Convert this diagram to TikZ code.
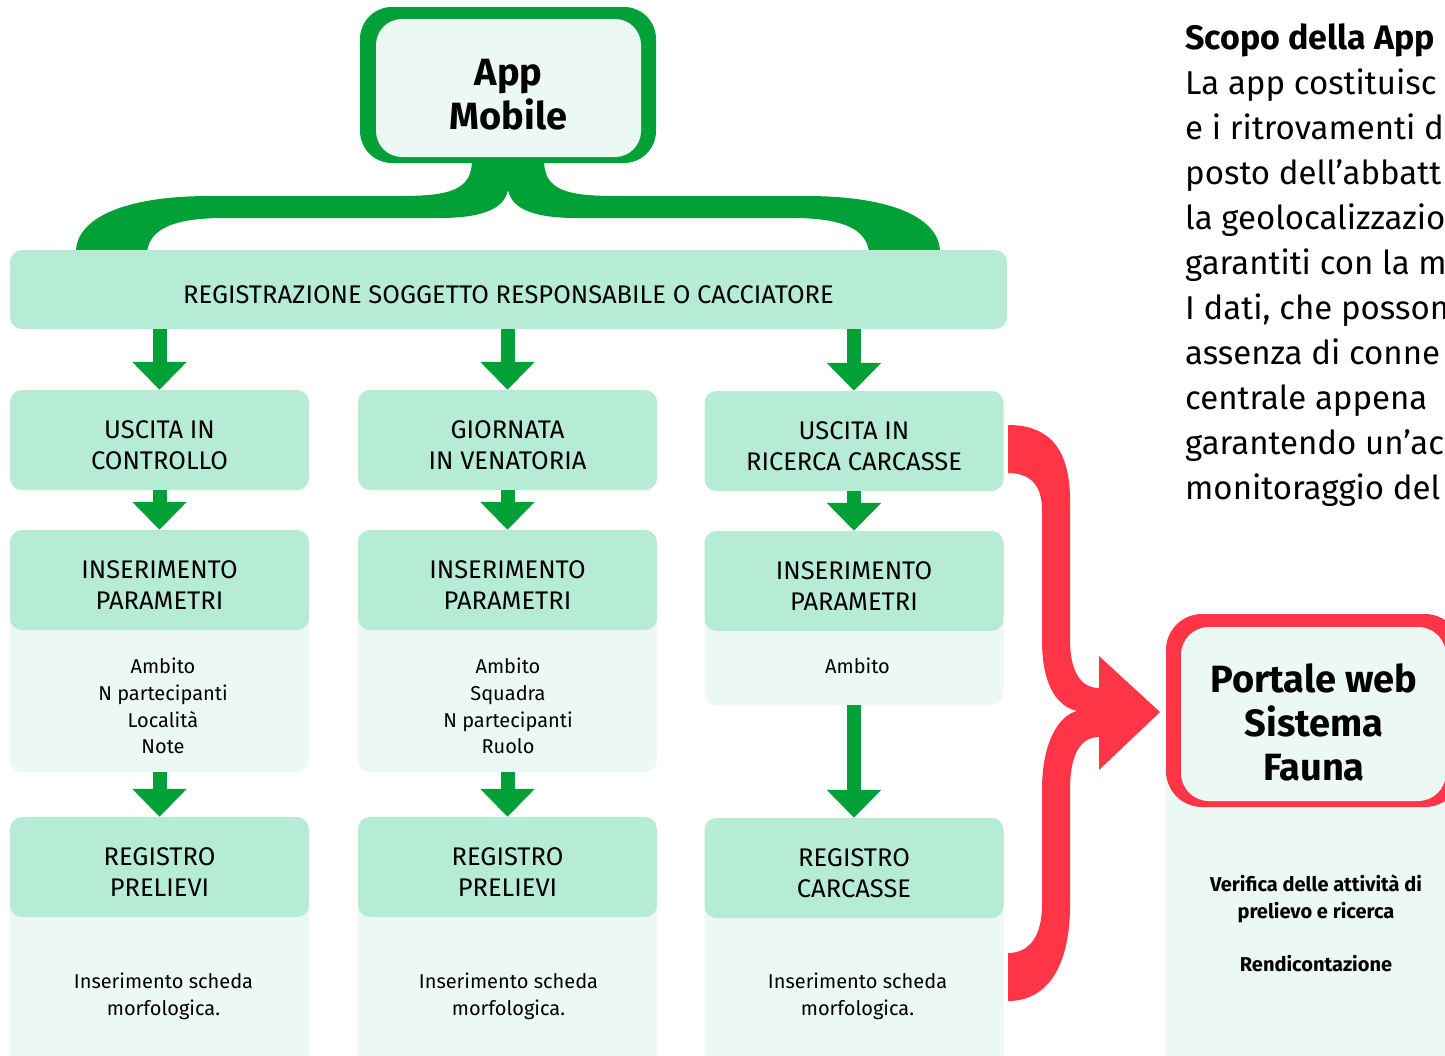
\documentclass[tikz,border=0pt]{standalone}
\usepackage{fontspec}
\setmainfont{Fira Sans}
\usetikzlibrary{arrows.meta}
\definecolor{gr}{HTML}{02A137}
\definecolor{mint}{HTML}{B6EBD6}
\definecolor{pale}{HTML}{ECF8F3}
\definecolor{rd}{HTML}{FE3546}
\begin{document}
\begin{tikzpicture}[x=1pt,y=-1pt,
  card/.style={rounded corners=12pt, minimum width=299pt, inner sep=0pt, draw=none},
  solidcard/.style={card, fill=mint},
  twotone/.style={card, fill=pale, path picture={\fill[mint] (path picture bounding box.north west) rectangle ([yshift=-100pt]path picture bounding box.north east);}},
  captext/.style={font=\fontsize{25.5}{31}\selectfont, align=center, inner sep=0pt},
  smalltext/.style={font=\fontsize{20}{26.7}\selectfont, align=center, inner sep=0pt},
  bigbold/.style={font=\fontsize{38}{44}\selectfont\bfseries, align=center, inner sep=0pt},
  arr/.style={draw=gr, line width=14pt, -{Triangle[width=53pt,length=28pt]}}
]
\useasboundingbox (0,0) rectangle (1445,1055);

% green brace from App box to registration
\fill[gr] (76,252) -- (147,252) .. controls (150,228) and (175,218) .. (225,218) -- (440,218)
  .. controls (490,218) and (505,205) .. (508,190)
  .. controls (511,205) and (526,218) .. (576,218) -- (791,218)
  .. controls (841,218) and (866,228) .. (869,252) -- (940,252)
  .. controls (940,220) and (896,196) .. (806,196) -- (616,196)
  .. controls (566,196) and (544,190) .. (544,160) -- (472,160)
  .. controls (472,190) and (450,196) .. (400,196) -- (210,196)
  .. controls (120,196) and (76,220) .. (76,252) -- cycle;

% App Mobile box
\fill[gr, rounded corners=32pt] (360,7) rectangle (656,163);
\fill[pale, rounded corners=26pt] (376,19) rectangle (641,157);
\node[bigbold] (app) at (508.5,95) {App\\Mobile};

% registration bar
\node[solidcard, minimum width=997pt, minimum height=79pt] (reg) at (508.5,289.5) {};
\node[captext] (regt) at (reg.center) [yshift=-5.5pt] {REGISTRAZIONE SOGGETTO RESPONSABILE O CACCIATORE};

% row 1
\node[solidcard, minimum height=100pt] (b11) at (159.5,440) {};
\node[solidcard, minimum height=100pt] (b12) at (507.5,440) {};
\node[solidcard, minimum height=100pt] (b13) at (854,441) {};
\node[captext] (t11) at (159.5,445.5) {USCITA IN\\CONTROLLO};
\node[captext] (t12) at (507.5,445.5) {GIORNATA\\IN VENATORIA};
\node[captext] (t13) at (854,446.5) {USCITA IN\\RICERCA CARCASSE};

% row 2
\node[twotone, minimum height=242pt] (b21) at (159.5,651) {};
\node[twotone, minimum height=242pt] (b22) at (507.5,651) {};
\node[twotone, minimum height=174pt] (b23) at (854,618) {};
\node[captext] (t21) at (159.5,585.5) {INSERIMENTO\\PARAMETRI};
\node[captext] (t22) at (507.5,585.5) {INSERIMENTO\\PARAMETRI};
\node[captext] (t23) at (854,586.5) {INSERIMENTO\\PARAMETRI};
\node[smalltext] (s21) at (163,706) {Ambito\\N partecipanti\\Località\\Note};
\node[smalltext] (s22) at (508,706) {Ambito\\Squadra\\N partecipanti\\Ruolo};
\node[smalltext] (s23) at (857.5,666) {Ambito};

% row 3
\node[twotone, minimum height=253pt] (b31) at (159.5,943.5) {};
\node[twotone, minimum height=253pt] (b32) at (507.5,943.5) {};
\node[twotone, minimum height=252pt] (b33) at (854,944) {};
\node[captext] (t31) at (159.5,872.5) {REGISTRO\\PRELIEVI};
\node[captext] (t32) at (507.5,872.5) {REGISTRO\\PRELIEVI};
\node[captext] (t33) at (854,873.5) {REGISTRO\\CARCASSE};
\node[smalltext] (s31) at (163.5,996) {Inserimento scheda\\morfologica.};
\node[smalltext] (s32) at (508.5,996) {Inserimento scheda\\morfologica.};
\node[smalltext] (s33) at (857.5,996) {Inserimento scheda\\morfologica.};

% green arrows
\draw[arr] (b11.north |- reg.south) -- (b11.north);
\draw[arr] (b12.north |- reg.south) -- (b12.north);
\draw[arr] (b13.north |- reg.south) -- (b13.north);
\draw[arr] (b11.south) -- (b21.north);
\draw[arr] (b12.south) -- (b22.north);
\draw[arr] (b13.south) -- (b23.north);
\draw[arr] (b21.south) -- (b31.north);
\draw[arr] (b22.south) -- (b32.north);
\draw[arr] (b23.south) -- (b33.north);

% Portale web panel
\fill[pale, rounded corners=20pt] (1166,625) rectangle (1475,1080);
\fill[rd, rounded corners=36pt] (1166,614) rectangle (1461,807);
\fill[pale, rounded corners=28pt] (1181,627) rectangle (1446,801);
\node[bigbold] (portal) at (1314,722) {Portale web\\Sistema\\Fauna};
\node[font=\fontsize{20}{27}\selectfont\bfseries, align=center, inner sep=0pt] (verif) at (1316,923)
  {Verifica delle attività di\\prelievo e ricerca\\[26pt]Rendicontazione};

% red brace into Portale
\fill[rd] (1008,425) .. controls (1050,425) and (1070,450) .. (1070,500)
  -- (1070,640) .. controls (1070,670) and (1080,688) .. (1099,688)
  -- (1099,656) -- (1160,712) -- (1099,770) -- (1099,737)
  .. controls (1080,737) and (1070,755) .. (1070,790)
  -- (1070,905) .. controls (1070,970) and (1045,1001) .. (1008,1001)
  -- (1008,953) .. controls (1030,953) and (1042,935) .. (1042,905)
  -- (1042,790) .. controls (1042,740) and (1060,715) .. (1077,711)
  .. controls (1060,707) and (1042,690) .. (1042,640)
  -- (1042,510) .. controls (1042,485) and (1030,473) .. (1008,473) -- cycle;

% right description
\node[anchor=north west, align=left, inner sep=0pt, font=\fontsize{33}{45}\selectfont] (scopo) at (1185,23)
  {{\bfseries\fontsize{34}{45}\selectfont Scopo della App}\\
   La app costituisc\\
   e i ritrovamenti d\\
   posto dell’abbatt\\
   la geolocalizzazio\\
   garantiti con la m\\
   I dati, che posson\\
   assenza di conne\\
   centrale appena\\
   garantendo un’ac\\
   monitoraggio del};
\end{tikzpicture}
\end{document}
